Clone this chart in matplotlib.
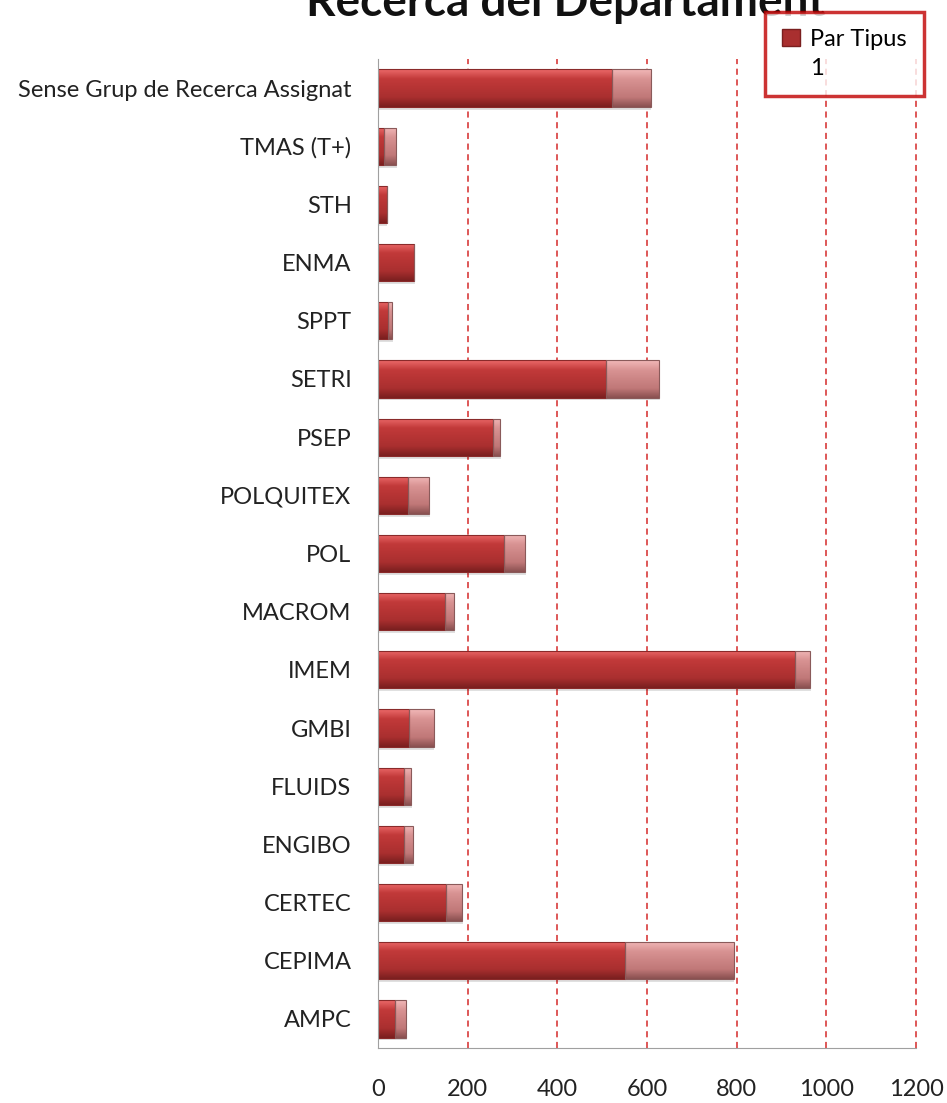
import matplotlib
matplotlib.use("Agg")
import matplotlib.pyplot as plt
import numpy as np
from matplotlib.patches import Patch
from matplotlib.colors import LinearSegmentedColormap

plt.rcParams['font.family'] = ['Lato', 'DejaVu Sans']

categories = ["Sense Grup de Recerca Assignat", "TMAS (T+)", "STH", "ENMA", "SPPT",
              "SETRI", "PSEP", "POLQUITEX", "POL", "MACROM", "IMEM", "GMBI",
              "FLUIDS", "ENGIBO", "CERTEC", "CEPIMA", "AMPC"]
part_dark = [522, 13, 19, 81, 23, 508, 257, 68, 282, 149, 931, 70, 59, 59, 152, 551, 39]
part_light = [86, 27, 0, 0, 8, 118, 15, 46, 46, 21, 32, 54, 14, 20, 35, 242, 23]
xticks = [0, 200, 400, 600, 800, 1000, 1200]
legend_labels = ["Par Tipus", "1"]
title = "Recerca del Departament"

W, H = 947, 1103
fig = plt.figure(figsize=(W/100, H/100), dpi=100)
ax = fig.add_axes([378/W, 1-1048/H, (916-378)/W, (1048-59)/H])

y = np.arange(len(categories))[::-1]
bh = 0.64

dark_cmap = LinearSegmentedColormap.from_list("d", ["#7a1f1f", "#a92f2f", "#b63434", "#c23a3a", "#ec6a6a"])
light_cmap = LinearSegmentedColormap.from_list("l", ["#8a5050", "#c07878", "#cc8585", "#d99494", "#f2b8b8"])
grad = np.linspace(0, 1, 64).reshape(-1, 1)

def draw(left, width, cmap, edge):
    bars = ax.barh(y, width, left=left, height=bh, color="none", edgecolor=edge, linewidth=0.8, zorder=4)
    for b, w in zip(bars, width):
        if w <= 0:
            continue
        x0, y0 = b.get_x(), b.get_y()
        h = b.get_height()
        ax.add_patch(plt.Rectangle((x0 + 2, y0 - 0.05), w, h, color="#000000", alpha=0.12, zorder=2, lw=0))
        im = ax.imshow(grad, cmap=cmap, aspect="auto", extent=(x0, x0 + w, y0, y0 + h),
                       origin="lower", zorder=3, interpolation="bilinear")
        im.set_clip_path(b)
    return bars

draw([0]*len(part_dark), part_dark, dark_cmap, "#8a2a2a")
draw(part_dark, part_light, light_cmap, "#8a5a5a")

ax.set_xlim(0, 1200)
ax.set_ylim(-0.5, len(categories) - 0.5)
ax.set_yticks(y)
ax.set_yticklabels(categories, fontsize=17, color="#222222")
ax.set_xticks(xticks)
ax.set_xticklabels([str(t) for t in xticks], fontsize=17, color="#222222")
ax.tick_params(axis="y", length=0, pad=19)
ax.tick_params(axis="x", length=0, pad=22)
for t in xticks[1:]:
    ax.axvline(t, color="#d42a2a", linestyle=(0, (4, 3)), linewidth=1.1, zorder=1, clip_on=False)
for s in ["top", "right"]:
    ax.spines[s].set_visible(False)
ax.spines["left"].set_color("#a0a0a0")
ax.spines["bottom"].set_color("#a0a0a0")
ax.spines["left"].set_zorder(5)

fig.text(566/W, 1-16/H, title, ha="center", va="baseline", fontsize=33, fontweight="bold", color="#111111")

handles = [Patch(facecolor="#a92f2f", edgecolor="#7a1f1f"), Patch(facecolor="none", edgecolor="none")]
leg = fig.legend(handles, legend_labels, loc="upper left", bbox_to_anchor=(765/W, 1-12/H),
                 fontsize=17, frameon=True, fancybox=False, borderpad=0.72, handlelength=0.75,
                 handleheight=0.75, handletextpad=0.45, labelspacing=0.32, borderaxespad=0)
leg.get_frame().set_edgecolor("#c00000")
leg.get_frame().set_linewidth(2.5)
leg.set_zorder(10)

fig.savefig("out.png", dpi=100)
